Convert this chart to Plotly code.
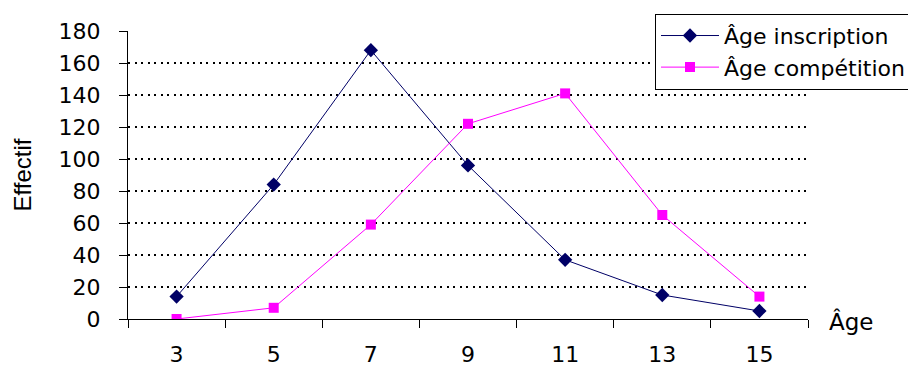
import plotly.graph_objects as go

ages = ["3", "5", "7", "9", "11", "13", "15"]
inscription = [14, 84, 168, 96, 37, 15, 5]
competition = [0, 7, 59, 122, 141, 65, 14]
y_ticks = [0, 20, 40, 60, 80, 100, 120, 140, 160, 180]
grid_vals = [20, 40, 60, 80, 100, 120, 140, 160]

FONT = "DejaVu Sans, Verdana, sans-serif"

fig = go.Figure()
# invisible trace to activate the grid axis
fig.add_trace(go.Scatter(x=[ages[0]], y=[0], yaxis="y2", showlegend=False,
                         mode="markers", marker=dict(opacity=0), hoverinfo="skip"))
fig.add_trace(go.Scatter(
    x=ages, y=inscription, name="Âge inscription", mode="lines+markers",
    line=dict(color="#000066", width=1),
    marker=dict(symbol="diamond", size=11, color="#000066"),
))
fig.add_trace(go.Scatter(
    x=ages, y=competition, name="Âge compétition", mode="lines+markers",
    line=dict(color="#FF00FF", width=1),
    marker=dict(symbol="square", size=10, color="#FF00FF"),
))

fig.update_layout(
    width=908, height=359,
    margin=dict(l=120, r=108, t=23, b=48, autoexpand=False),
    paper_bgcolor="white", plot_bgcolor="white",
    font=dict(family=FONT, size=22, color="black"),
    showlegend=True,
    legend=dict(
        x=0.775, y=1.06, xanchor="left", yanchor="top",
        bgcolor="white", bordercolor="black", borderwidth=1,
        font=dict(size=22), tracegroupgap=0, itemwidth=58,
    ),
    xaxis=dict(
        type="category", range=[-0.5, 6.5],
        showline=True, linecolor="black", linewidth=1,
        ticks="outside", tickson="boundaries", ticklen=8, tickcolor="black",
        ticklabelstandoff=16,
        showgrid=False, zeroline=False,
    ),
    yaxis=dict(
        range=[0, 180], tickvals=y_ticks,
        showline=True, linecolor="black", linewidth=1,
        ticks="outside", ticklen=8, tickcolor="black",
        ticklabelstandoff=14,
        showgrid=False, zeroline=False,
        title=dict(text="Effectif", standoff=20,
                   font=dict(family="Liberation Sans, Arial, sans-serif", size=24)),
    ),
    yaxis2=dict(
        overlaying="y", range=[0, 180], tickvals=grid_vals,
        showticklabels=False, ticks="", showline=False, zeroline=False,
        showgrid=True, gridcolor="black", gridwidth=1.5, griddash="2px,4.5px",
    ),
    annotations=[dict(
        text="Âge", xref="paper", yref="paper", x=1.028, y=-0.01,
        xanchor="left", yanchor="middle", showarrow=False,
        font=dict(size=23),
    )],
)

fig.write_html("out.html")
